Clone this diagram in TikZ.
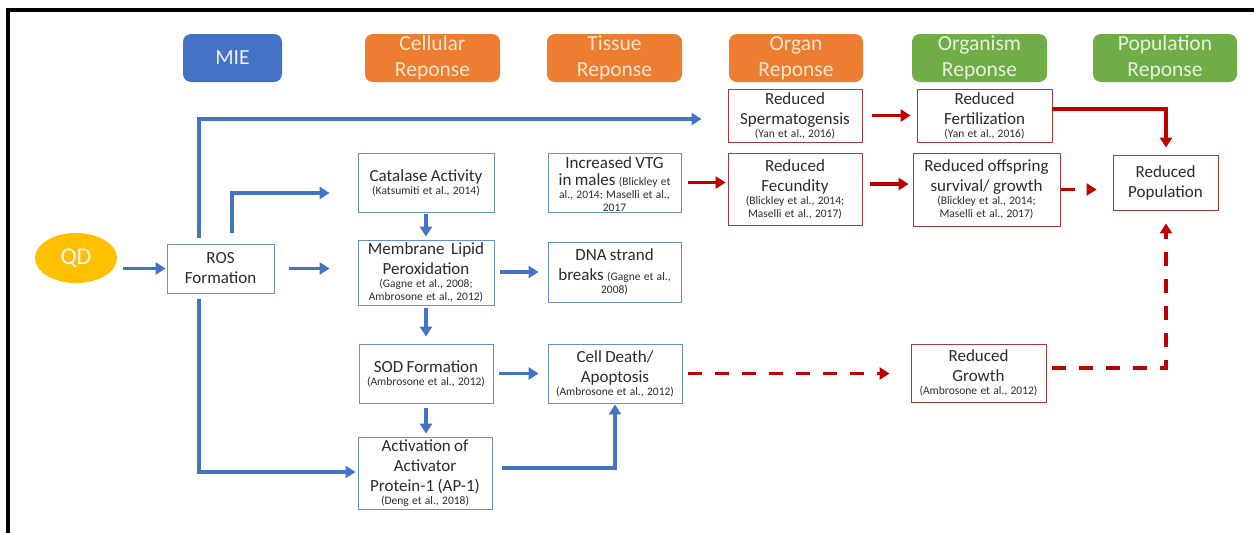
\documentclass[tikz,border=0pt]{standalone}
\usepackage{fontspec}
\setmainfont{Carlito}
\usetikzlibrary{arrows.meta,shapes.geometric}
\definecolor{mblue}{HTML}{4472C4}
\definecolor{morange}{HTML}{ED7D31}
\definecolor{mgreen}{HTML}{70AD47}
\definecolor{mgold}{HTML}{FFC000}
\definecolor{mred}{HTML}{C00000}
\definecolor{bbord}{HTML}{6B8FC9}
\definecolor{rbord}{HTML}{A83A3E}
\definecolor{txt}{HTML}{2B2B2B}
\definecolor{otxt}{HTML}{F8E6CC}
\definecolor{gtxt}{HTML}{E6F1DE}
\definecolor{btxt}{HTML}{EEF2FA}
\newcommand{\mt}[1]{{\fontsize{17}{20}\selectfont #1\par}}
\newcommand{\rc}[1]{{\fontsize{11.5}{13}\selectfont #1\par}}
\newcommand{\rcin}[1]{{\fontsize{11.5}{13}\selectfont #1}}
\begin{document}
\begin{tikzpicture}[x=1pt,y=-1pt,
  hdr/.style={rounded corners=8pt, minimum height=48pt, inner sep=0pt, align=center,
    font=\fontsize{21.5}{26}\selectfont},
  bbox/.style={draw=bbord, line width=0.9pt, fill=white, inner sep=0pt, align=center, text=txt},
  rbox/.style={draw=rbord, line width=0.9pt, fill=white, inner sep=0pt, align=center, text=txt},
  barrow/.style={draw=mblue, line width=3.5pt, -{Triangle[length=10pt,width=12pt]}},
  rarrow/.style={draw=mred, line width=3.5pt, -{Triangle[length=10pt,width=12pt]}},
  rdash/.style={rarrow, dash pattern=on 14pt off 13pt}]
\useasboundingbox (0,0) rectangle (1254,533);
\fill[white] (0,0) rectangle (1254,533);
\draw[line width=3.5pt] (8,533) -- (8,10) -- (1254,10);

% headers
\node[hdr, fill=mblue, text=btxt, minimum width=99pt] (mie) at (232.5,58) {MIE};
\node[hdr, fill=morange, text=otxt, minimum width=135pt] (cel) at (432.5,58) {Cellular\\Reponse};
\node[hdr, fill=morange, text=otxt, minimum width=135pt] (tis) at (614.5,58) {Tissue\\Reponse};
\node[hdr, fill=morange, text=otxt, minimum width=134pt] (org) at (796,58) {Organ\\Reponse};
\node[hdr, fill=mgreen, text=gtxt, minimum width=135pt] (orgm) at (979.5,58) {Organism\\Reponse};
\node[hdr, fill=mgreen, text=gtxt, minimum width=144pt] (popr) at (1165,58) {Population\\Reponse};

% QD
\node[ellipse, fill=mgold, minimum width=82pt, minimum height=50pt, inner sep=0pt,
  text=btxt, font=\fontsize{24}{28}\selectfont] (qd) at (76,258) {QD};

% blue boxes
\node[bbox, minimum width=107pt, minimum height=49pt, text width=103pt] (ros) at (220.5,268.5)
  {\mt{ROS\par Formation}};
\node[bbox, minimum width=136pt, minimum height=59pt, text width=132pt] (cat) at (426,182.5)
  {\mt{Catalase Activity}\rc{(Katsumiti et al., 2014)}};
\node[bbox, minimum width=136pt, minimum height=65pt, text width=132pt] (mem) at (426,272.5)
  {\mt{Membrane\ \ Lipid\par Peroxidation}\rc{(Gagne et al., 2008;\par Ambrosone et al., 2012)}};
\node[bbox, minimum width=134pt, minimum height=59pt, text width=130pt] (sod) at (426,373.5)
  {\mt{SOD Formation}\rc{(Ambrosone et al., 2012)}};
\node[bbox, minimum width=134pt, minimum height=72pt, text width=130pt] (act) at (425,473)
  {\mt{Activation of\par Activator\par Protein-1 (AP-1)}\rc{(Deng et al., 2018)}};
\node[bbox, minimum width=133pt, minimum height=59pt, text width=131pt] (vtg) at (614.5,182.5)
  {\vspace*{-3pt}\mt{Increased VTG\par in males \rcin{(Blickley et}}\rc{al., 2014; Maselli et al.,\par 2017}\vspace*{-3pt}};
\node[bbox, minimum width=133pt, minimum height=60pt, text width=129pt] (dna) at (614.5,272)
  {\mt{DNA strand\par breaks \rcin{(Gagne et al.,}}\rc{2008)}};
\node[bbox, minimum width=134pt, minimum height=59pt, text width=130pt] (cell) at (615,373.5)
  {\mt{Cell Death/\par Apoptosis}\rc{(Ambrosone et al., 2012)}};

% red boxes
\node[rbox, minimum width=134pt, minimum height=53pt, text width=130pt] (sperm) at (795,115.5)
  {\mt{Reduced\par Spermatogensis}\rc{(Yan et al., 2016)}};
\node[rbox, minimum width=134pt, minimum height=72pt, text width=130pt] (fec) at (795,189)
  {\mt{Reduced\par Fecundity}\rc{(Blickley et al., 2014;\par Maselli et al., 2017)}};
\node[rbox, minimum width=135pt, minimum height=53pt, text width=131pt] (fert) at (984.5,115.5)
  {\mt{Reduced\par Fertilization}\rc{(Yan et al., 2016)}};
\node[rbox, minimum width=147pt, minimum height=73pt, text width=143pt] (off) at (986.5,189.5)
  {\mt{Reduced offspring\par survival/ growth}\rc{(Blickley et al., 2014;\par Maselli et al., 2017)}};
\node[rbox, minimum width=105pt, minimum height=55pt, text width=101pt] (pop) at (1165.5,182.5)
  {\mt{Reduced\par Population}};
\node[rbox, minimum width=135pt, minimum height=58pt, text width=131pt] (grow) at (978.5,373)
  {\mt{Reduced\par Growth}\rc{(Ambrosone et al., 2012)}};

% bend points
\coordinate (b1) at (199,119);
\coordinate (b2) at (232,193);
\coordinate (b3) at (199,472);
\coordinate (b4) at (615,468);
\coordinate (b5) at (0,184);
\coordinate (b6) at (1166,109);
\coordinate (b7) at (1166,368);

% blue connectors
\draw[barrow, shorten <=6pt, shorten >=1pt] (qd.east |- ros.west) -- (ros.west);
\draw[barrow, shorten <=6pt, shorten >=26pt] (ros.north -| b1) -- (b1) -- (b1 -| sperm.west);
\draw[barrow, shorten <=11pt, shorten >=28pt] (ros.north -| b2) -- (b2) -- (b2 -| cat.west);
\draw[barrow, shorten <=15pt, shorten >=28pt] (ros.east) -- (ros.east -| mem.west);
\draw[barrow, shorten <=2pt, shorten >=3pt] (cat.south) -- (cat.south |- mem.north);
\draw[barrow, shorten <=6pt, shorten >=9pt] (mem.east |- dna.west) -- (dna.west);
\draw[barrow, shorten <=3pt, shorten >=7pt] (mem.south) -- (mem.south |- sod.north);
\draw[barrow, shorten <=6pt, shorten >=9pt] (sod.east) -- (sod.east -| cell.west);
\draw[barrow, shorten <=5pt, shorten >=3pt] (sod.south) -- (sod.south |- act.north);
\draw[barrow, shorten <=6pt, shorten >=2pt] (ros.south -| b3) -- (b3) -- (b3 -| act.west);
\draw[barrow, shorten <=10pt, shorten >=1pt] (act.east |- b4) -- (b4) -- (b4 |- cell.south);

% red connectors
\draw[rarrow, shorten <=7pt, shorten >=2pt] (vtg.east) -- (vtg.east -| fec.west);
\draw[rarrow, shorten <=10pt, shorten >=6pt] (sperm.east) -- (sperm.east -| fert.west);
\draw[rarrow, shorten <=8pt, shorten >=4pt] (fec.east |- b5) -- (off.west |- b5);
\draw[rarrow, shorten >=7pt] (fert.east |- b6) -- (b6) -- (b6 |- pop.north);
\draw[rdash, shorten <=1pt, shorten >=16pt] (off.east) -- (off.east -| pop.west);
\draw[rdash, shorten <=6pt, shorten >=21pt] (cell.east) -- (cell.east -| grow.west);
\draw[rdash, shorten <=6pt, shorten >=13pt] (grow.east |- b7) -- (b7) -- (b7 |- pop.south);
\end{tikzpicture}
\end{document}
